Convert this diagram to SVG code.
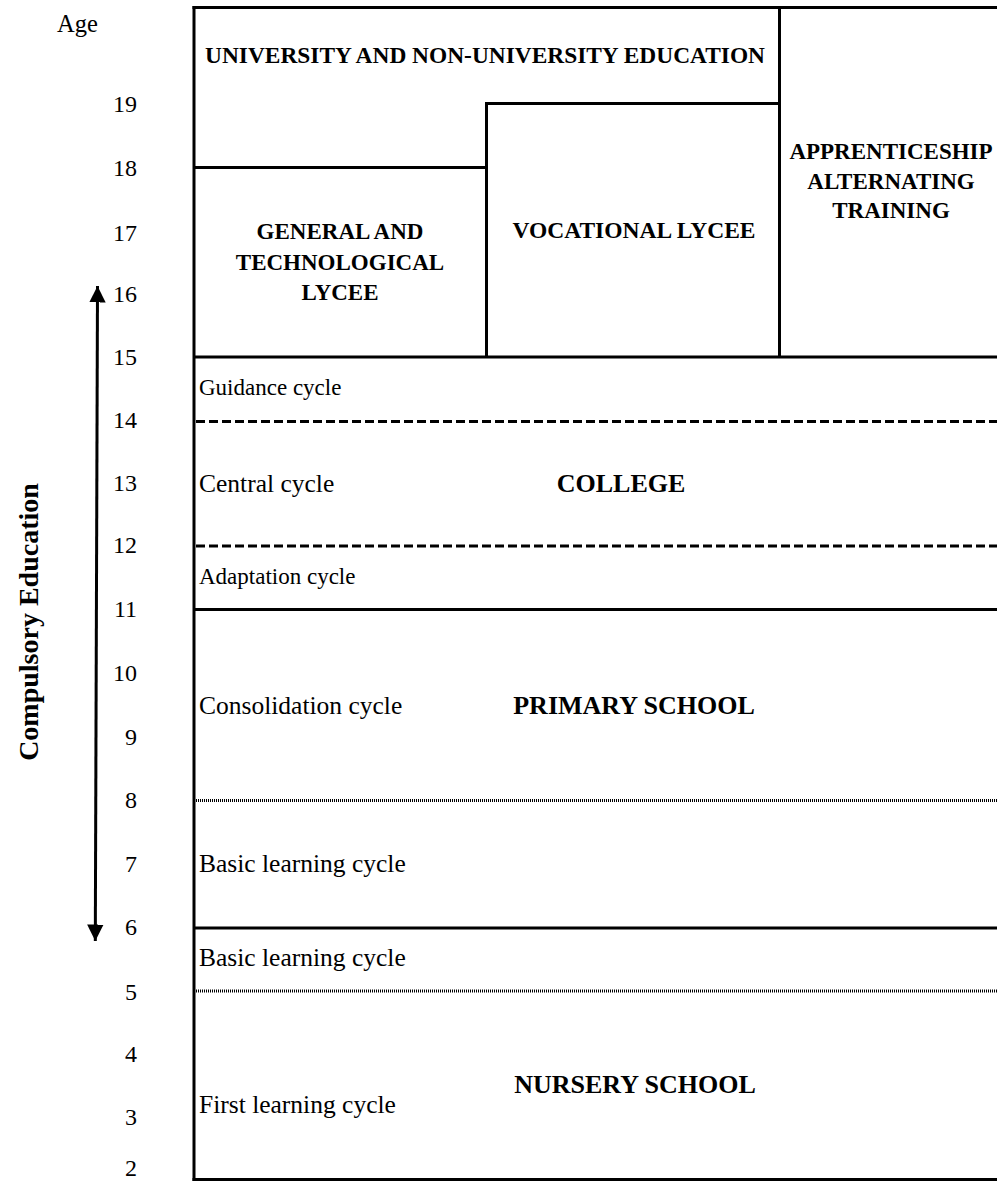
<svg xmlns="http://www.w3.org/2000/svg" width="997" height="1181" viewBox="0 0 997 1181">
<style>
.ln{stroke:#000;stroke-width:3;fill:none}
.dash{stroke:#000;stroke-width:3;fill:none;stroke-dasharray:9 4}
.dot{stroke:#000;stroke-width:3;fill:none;stroke-dasharray:1 1}
.r{font-family:"Liberation Serif","Times New Roman",serif;font-size:25.5px;fill:#000}
.s{font-family:"Liberation Serif","Times New Roman",serif;font-size:23px;fill:#000}
.b{font-family:"Liberation Serif","Times New Roman",serif;font-size:23px;font-weight:bold;fill:#000}
.bl{font-family:"Liberation Serif","Times New Roman",serif;font-size:26px;font-weight:bold;fill:#000}
.age{font-family:"Liberation Serif","Times New Roman",serif;font-size:24px;fill:#000;text-anchor:end}
.c{text-anchor:middle}
</style>
<defs>
<marker id="ah" viewBox="0 0 10 10" refX="10" refY="5" markerWidth="5.5" markerHeight="5.5" markerUnits="strokeWidth" orient="auto-start-reverse">
<path d="M0,0 L10,5 L0,10 z" fill="#000"/>
</marker>
</defs>
<rect width="997" height="1181" fill="#fff"/>

<g id="age-axis">
<text class="s" x="57" y="32" style="font-size:24.5px">Age</text>
<text class="age" x="137" y="112">19</text>
<text class="age" x="137" y="176">18</text>
<text class="age" x="137" y="241">17</text>
<text class="age" x="137" y="302">16</text>
<text class="age" x="137" y="365">15</text>
<text class="age" x="137" y="428">14</text>
<text class="age" x="137" y="491">13</text>
<text class="age" x="137" y="553">12</text>
<text class="age" x="137" y="617">11</text>
<text class="age" x="137" y="681">10</text>
<text class="age" x="137" y="745">9</text>
<text class="age" x="137" y="808">8</text>
<text class="age" x="137" y="872">7</text>
<text class="age" x="137" y="935">6</text>
<text class="age" x="137" y="1000">5</text>
<text class="age" x="137" y="1062">4</text>
<text class="age" x="137" y="1125">3</text>
<text class="age" x="137" y="1176">2</text>
</g>

<g id="compulsory">
<text class="bl c" transform="translate(38,622) rotate(-90)" style="font-size:28px">Compulsory Education</text>
</g>

<g id="connectors">
<line x1="97.5" y1="286" x2="95.3" y2="941" stroke="#000" stroke-width="3" marker-start="url(#ah)" marker-end="url(#ah)"/>
</g>

<g id="frame">
<line class="ln" x1="192.5" y1="7.5" x2="997" y2="7.5"/>
<line class="ln" x1="194" y1="6" x2="194" y2="1181"/>
<line class="ln" x1="192.5" y1="1179.5" x2="997" y2="1179.5"/>
</g>

<g id="university">
<text class="b c" x="485" y="63" style="font-size:23.4px">UNIVERSITY AND NON-UNIVERSITY EDUCATION</text>
</g>

<g id="general-lycee">
<line class="ln" x1="194" y1="167.5" x2="488" y2="167.5"/>
<text class="b c" x="340" y="239">GENERAL AND</text>
<text class="b c" x="340" y="270">TECHNOLOGICAL</text>
<text class="b c" x="340" y="300">LYCEE</text>
</g>

<g id="vocational-lycee">
<line class="ln" x1="486.5" y1="102" x2="486.5" y2="357"/>
<line class="ln" x1="485" y1="103.5" x2="781" y2="103.5"/>
<text class="b c" x="634" y="238" style="font-size:23.5px">VOCATIONAL LYCEE</text>
</g>

<g id="apprenticeship">
<line class="ln" x1="779.5" y1="7" x2="779.5" y2="357"/>
<text class="b c" x="891" y="159">APPRENTICESHIP</text>
<text class="b c" x="891" y="189">ALTERNATING</text>
<text class="b c" x="891" y="218">TRAINING</text>
</g>

<g id="college">
<line class="ln" x1="194" y1="357" x2="997" y2="357"/>
<text class="s" x="199" y="395">Guidance cycle</text>
<line class="dash" x1="196" y1="421.5" x2="997" y2="421.5"/>
<text class="r" x="199" y="492">Central cycle</text>
<text class="bl c" x="621" y="492">COLLEGE</text>
<line class="dash" x1="196" y1="546" x2="997" y2="546"/>
<text class="s" x="199" y="584">Adaptation cycle</text>
</g>

<g id="primary">
<line class="ln" x1="194" y1="609.5" x2="997" y2="609.5"/>
<text class="r" x="199" y="714">Consolidation cycle</text>
<text class="bl c" x="634" y="714">PRIMARY SCHOOL</text>
<line class="dot" x1="196" y1="800.5" x2="997" y2="800.5"/>
<text class="r" x="199" y="872">Basic learning cycle</text>
</g>

<g id="nursery">
<line class="ln" x1="194" y1="928" x2="997" y2="928"/>
<text class="r" x="199" y="966">Basic learning cycle</text>
<line class="dot" x1="196" y1="991" x2="997" y2="991"/>
<text class="r" x="199" y="1113">First learning cycle</text>
<text class="bl c" x="635" y="1093">NURSERY SCHOOL</text>
</g>
</svg>
